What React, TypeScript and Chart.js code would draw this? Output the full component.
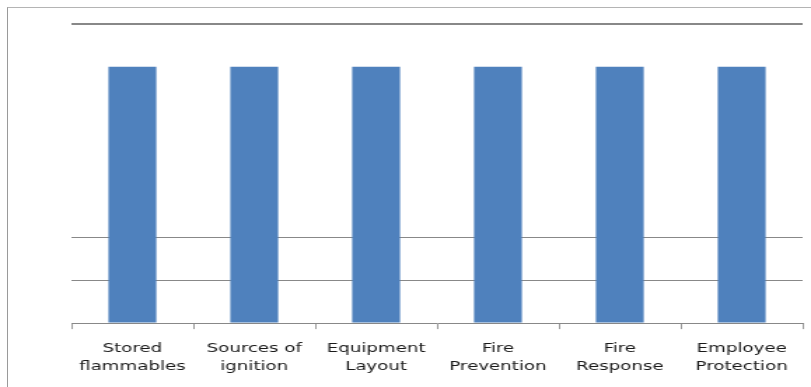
import React, { useEffect, useRef } from "react";
import { Chart, registerables } from "chart.js";

Chart.register(...registerables);

const categories: string[][] = [
  ["Stored", "flammables"],
  ["Sources of", "ignition"],
  ["Equipment", "Layout"],
  ["Fire", "Prevention"],
  ["Fire", "Response"],
  ["Employee", "Protection"],
];
const values: number[] = [6, 6, 6, 6, 6, 6];
const visibleGridValues: number[] = [1, 2, 7];
const yMin = 0;
const yMax = 7;

const SCREEN_W = 811;
const SCREEN_H = 387;
const STRETCH = 1.4;
const INNER_W = Math.round(SCREEN_W / STRETCH);

export default function App() {
  const ref = useRef<HTMLCanvasElement | null>(null);

  useEffect(() => {
    const canvas = ref.current;
    if (!canvas) return;
    const chart = new Chart(canvas, {
      type: "bar",
      data: {
        labels: categories,
        datasets: [
          {
            data: values,
            backgroundColor: "#4f81bd",
            borderWidth: 0,
            barPercentage: 0.393,
            categoryPercentage: 1,
          },
        ],
      },
      options: {
        animation: false,
        responsive: false,
        devicePixelRatio: 1,
        layout: { padding: { left: 51, right: 6, top: 24, bottom: 0 } },
        plugins: { legend: { display: false }, tooltip: { enabled: false } },
        scales: {
          x: {
            border: { display: true, color: "#888888", width: 1 },
            grid: {
              drawOnChartArea: false,
              drawTicks: true,
              tickLength: 6,
              color: "#999999",
              offset: true,
            },
            ticks: {
              color: "#1a1a1a",
              font: { family: "'DejaVu Sans'", size: 13, lineHeight: 1.38 },
              padding: 11,
              maxRotation: 0,
              minRotation: 0,
              autoSkip: false,
            },
          },
          y: {
            min: yMin,
            max: yMax,
            border: { display: false },
            ticks: { display: false, stepSize: 1 },
            grid: {
              drawTicks: false,
              color: (c: any) =>
                visibleGridValues.includes(c.tick?.value) ? "#888888" : "rgba(0,0,0,0)",
              lineWidth: (c: any) => (c.tick?.value === yMax ? 2 : 1),
            },
          },
        },
      },
    });
    return () => chart.destroy();
  }, []);

  return (
    <div
      style={{
        position: "absolute",
        left: 0,
        top: 0,
        width: SCREEN_W,
        height: SCREEN_H,
        overflow: "hidden",
        background: "#ffffff",
      }}
    >
      <div
        style={{
          position: "absolute",
          left: 7,
          top: 7,
          width: SCREEN_W,
          height: SCREEN_H,
          borderLeft: "1px solid #9a9a9a",
          borderTop: "1px solid #b4b4b4",
        }}
      />
      <canvas
        ref={ref}
        width={INNER_W}
        height={SCREEN_H}
        style={{
          position: "absolute",
          left: 0,
          top: 0,
          width: SCREEN_W + "px",
          height: SCREEN_H + "px",
        }}
      />
    </div>
  );
}
